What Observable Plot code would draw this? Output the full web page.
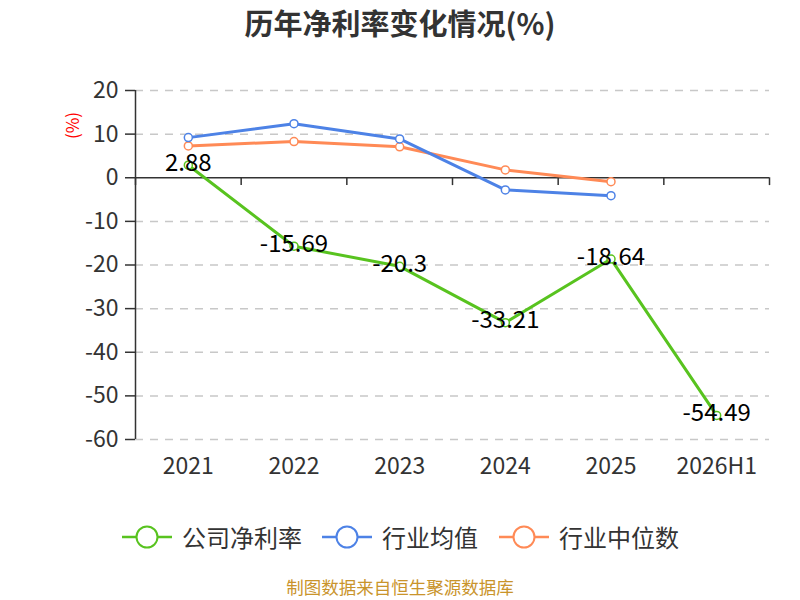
<!DOCTYPE html>
<html>
<head>
<meta charset="utf-8">
<script src="https://cdn.jsdelivr.net/npm/d3@7"></script>
<script src="https://cdn.jsdelivr.net/npm/@observablehq/plot@0.6"></script>
<style>
  body { margin: 0; background: #fff; font-family: "Noto Sans CJK SC", "Noto Sans", sans-serif; }
  #wrap { position: relative; width: 800px; height: 600px; overflow: hidden; }
  #title { position: absolute; top: 1px; left: 0; width: 800px; text-align: center; font-size: 29px; font-weight: bold; color: #333; line-height: 42px; }
  #chart { position: absolute; top: 50px; left: 0; }
  #unit { position: absolute; left: 58px; top: 113px; color: #f00; font-size: 17px; transform: rotate(-90deg); transform-origin: center; }
  .leg { position: absolute; top: 519px; display: flex; align-items: center; font-size: 24px; color: #333; }
  .leg svg { margin-right: 10px; }
  #caption { position: absolute; top: 574px; left: 0; width: 800px; text-align: center; font-size: 17.5px; line-height: 25px; color: #c9942b; }
</style>
</head>
<body>
<div id="wrap">
  <div id="title">历年净利率变化情况(%)</div>
  <div id="unit">(%)</div>
  <div id="chart"></div>
  <div id="legend"></div>
  <div id="caption">制图数据来自恒生聚源数据库</div>
</div>
<script>
const categories = ["2021", "2022", "2023", "2024", "2025", "2026H1"];
const companyRate = [2.88, -15.69, -20.3, -33.21, -18.64, -54.49];
const industryMean = [9.2, 12.4, 8.9, -2.8, -4.1];
const industryMedian = [7.3, 8.3, 7.1, 1.8, -0.9];
const yTicks = [-60, -50, -40, -30, -20, -10, 0, 10, 20];
const seriesNames = ["公司净利率", "行业均值", "行业中位数"];
const seriesColors = ["#58c31f", "#4d82e6", "#ff8a56"];

const toRows = (vals, name) => vals.map((v, i) => ({i, v, name}));
const company = toRows(companyRate, seriesNames[0]);
const mean = toRows(industryMean, seriesNames[1]);
const median = toRows(industryMedian, seriesNames[2]);
const boundaries = d3.range(categories.length + 1).map(i => i - 0.5);

const chart = Plot.plot({
  width: 800,
  height: 430,
  marginTop: 40,
  marginBottom: 41,
  marginLeft: 135,
  marginRight: 31,
  style: {fontFamily: '"Noto Sans CJK SC", sans-serif', color: "#333", background: "transparent"},
  x: {type: "linear", domain: [-0.5, categories.length - 0.5]},
  y: {domain: [-60, 20]},
  marks: [
    Plot.gridY(yTicks.filter(t => t !== 0), {stroke: "#c8c8c8", strokeOpacity: 1, strokeWidth: 1.5, strokeDasharray: "8,7"}),
    Plot.ruleY([0], {stroke: "#333", strokeWidth: 1.5}),
    Plot.ruleX([boundaries[0]], {stroke: "#333", strokeWidth: 1.5}),
    Plot.ruleX(boundaries, {x: d => d, y1: 0, y2: -1.8, stroke: "#333", strokeWidth: 1.5}),
    Plot.axisY({ticks: yTicks, tickFormat: d => String(d), tickSize: 10, tickPadding: 7, fontSize: 23, stroke: "#333", strokeWidth: 1.5, label: null}),
    Plot.axisX({ticks: d3.range(categories.length), tickFormat: i => categories[i], tickSize: 0, tickPadding: 18, fontSize: 23, label: null}),
    Plot.line(median, {x: "i", y: "v", stroke: seriesColors[2], strokeWidth: 3}),
    Plot.line(mean, {x: "i", y: "v", stroke: seriesColors[1], strokeWidth: 3}),
    Plot.line(company, {x: "i", y: "v", stroke: seriesColors[0], strokeWidth: 3}),
    Plot.dot(median, {x: "i", y: "v", r: 4, fill: "#fff", stroke: seriesColors[2], strokeWidth: 1.5}),
    Plot.dot(mean, {x: "i", y: "v", r: 4, fill: "#fff", stroke: seriesColors[1], strokeWidth: 1.5}),
    Plot.dot(company, {x: "i", y: "v", r: 4, fill: "#fff", stroke: seriesColors[0], strokeWidth: 1.5}),
    Plot.text(company, {x: "i", y: "v", text: d => String(d.v), fontSize: 24, fill: "#000", dy: -2})
  ]
});
document.getElementById("chart").appendChild(chart);

const legendLefts = [122, 322, 499];
const legend = document.getElementById("legend");
seriesNames.forEach((name, k) => {
  const item = document.createElement("div");
  item.className = "leg";
  item.style.left = legendLefts[k] + "px";
  const c = seriesColors[k];
  item.innerHTML = `<svg width="50" height="34"><line x1="0" y1="17" x2="50" y2="17" stroke="${c}" stroke-width="2.5"/><circle cx="25" cy="17" r="10.5" fill="#fff" stroke="${c}" stroke-width="2"/></svg><span>${name}</span>`;
  legend.appendChild(item);
});
</script>
</body>
</html>
